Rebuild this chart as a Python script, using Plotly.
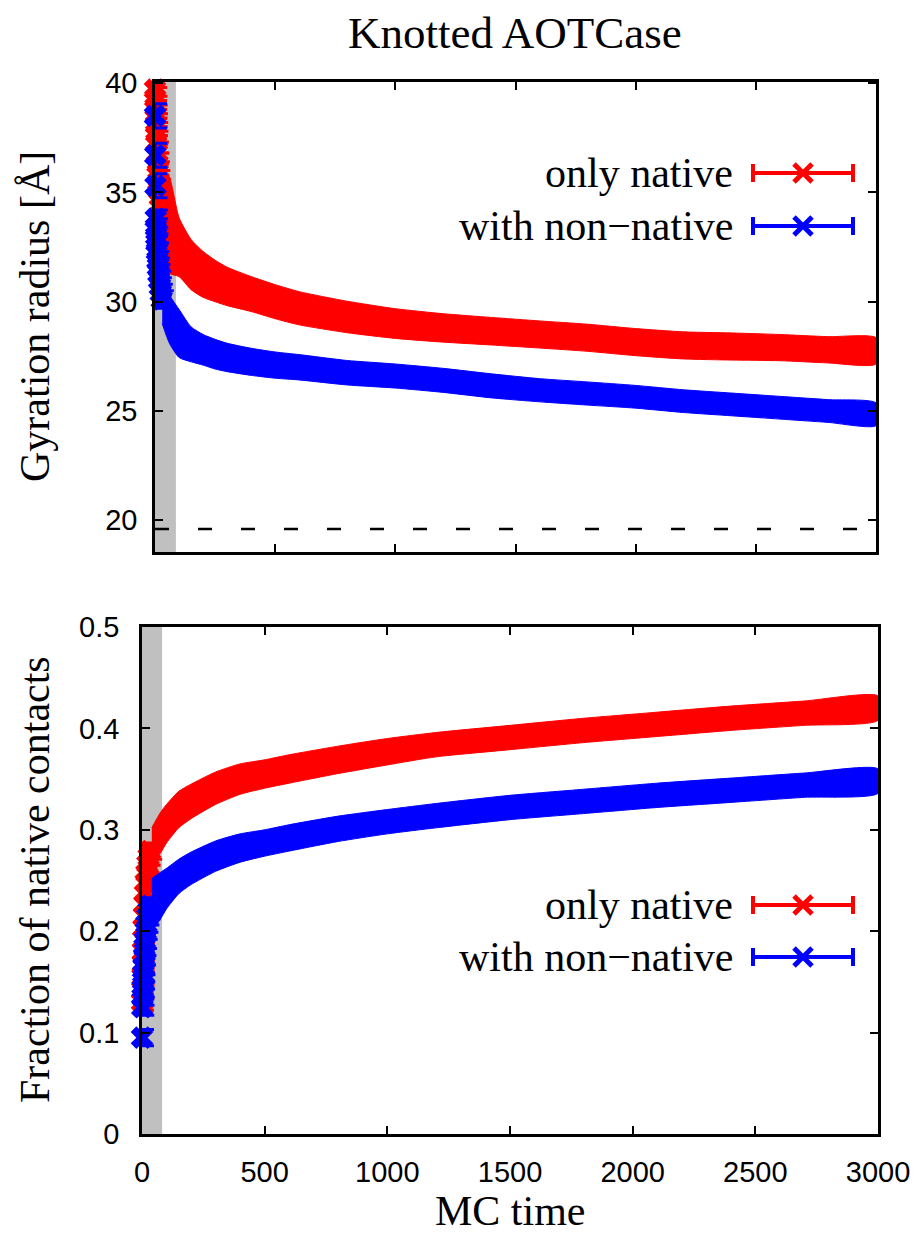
import plotly.graph_objects as go

W, H = 920, 1235

# ---------------- data ----------------
# Top panel: gyration radius [Å] vs MC time
top_early_t_red = [0, 1, 2, 3, 4, 5, 6, 8, 10, 12, 14, 17, 20, 23, 26]
top_early_red = [39.7, 39.3, 38.9, 38.5, 38.1, 37.7, 37.3, 36.8, 36.3, 35.9, 35.5,
                 35.1, 34.8, 34.5, 34.3]
top_early_red_err = [0.5] * 15

top_early_t_blue = [0, 1, 2, 3, 4, 5, 6, 8, 10, 12, 14, 17, 20, 24, 28]
top_early_blue = [38.5, 36.7, 35.3, 33.8, 33.4, 33.0, 32.7, 32.3, 31.9, 31.6, 31.3,
                  31.0, 30.7, 30.4, 30.1]
top_early_blue_err = [0.55, 0.55, 0.55] + [0.4] * 12

top_t = [30, 60, 100, 150, 200, 250, 300, 400, 500, 600, 800, 1000, 1200,
         1400, 1600, 1800, 2000, 2200, 2400, 2600, 2800, 3000]
top_red = [34.3, 33.5, 32.5, 31.7, 31.25, 30.95, 30.7, 30.35, 30.0, 29.7, 29.3,
           29.0, 28.8, 28.65, 28.5, 28.35, 28.15, 28.0, 27.95, 27.9, 27.8, 27.75]
top_red_err = [1.8, 2.2, 1.35, 1.15, 1.05, 0.95, 0.88, 0.8, 0.78, 0.76, 0.72, 0.68,
               0.65, 0.63, 0.62, 0.62, 0.62, 0.62, 0.62, 0.6, 0.6, 0.6]
top_blue = [30.0, 29.2, 28.55, 28.05, 27.8, 27.6, 27.45, 27.25, 27.1, 27.0, 26.75,
            26.6, 26.4, 26.15, 25.95, 25.8, 25.65, 25.45, 25.3, 25.15, 25.0, 24.85]
top_blue_err = [1.0, 1.1, 1.1, 0.8, 0.7, 0.68, 0.65, 0.62, 0.6, 0.58, 0.56, 0.55,
                0.55, 0.55, 0.53, 0.53, 0.52, 0.52, 0.52, 0.52, 0.52, 0.52]
native_rg = 19.6

# Bottom panel: fraction of native contacts vs MC time
bot_early_t_red = [0, 1, 2, 3, 4, 5, 6, 8, 10, 12, 15, 18, 22, 27, 33]
bot_early_red = [0.13, 0.142, 0.155, 0.168, 0.18, 0.192, 0.203, 0.215, 0.227, 0.237,
                 0.248, 0.257, 0.266, 0.273, 0.279]
bot_early_red_err = [0.008] * 15

bot_early_t_blue = [0, 1, 2, 3, 4, 5, 6, 8, 10, 12, 15, 18, 22, 27, 33]
bot_early_blue = [0.095, 0.125, 0.135, 0.143, 0.151, 0.158, 0.165, 0.175, 0.184, 0.191,
                  0.2, 0.207, 0.214, 0.22, 0.225]
bot_early_blue_err = [0.008] * 15

bot_t = [40, 75, 100, 150, 200, 300, 400, 500, 600, 800, 1000, 1200, 1500,
         1800, 2100, 2400, 2700, 3000]
bot_red = [0.285, 0.297, 0.306, 0.320, 0.328, 0.341, 0.350, 0.355, 0.360, 0.369,
           0.377, 0.384, 0.391, 0.398, 0.404, 0.410, 0.415, 0.420]
bot_red_err = [0.017, 0.02, 0.019, 0.018, 0.017, 0.016, 0.015, 0.014, 0.014, 0.0135,
               0.013, 0.012, 0.012, 0.012, 0.012, 0.012, 0.012, 0.012]
bot_blue = [0.226, 0.235, 0.242, 0.254, 0.262, 0.274, 0.282, 0.287, 0.292, 0.301,
            0.308, 0.314, 0.322, 0.328, 0.334, 0.339, 0.344, 0.348]
bot_blue_err = [0.026, 0.023, 0.02, 0.017, 0.016, 0.015, 0.014, 0.013, 0.013, 0.0125,
                0.012, 0.012, 0.012, 0.012, 0.012, 0.012, 0.012, 0.012]

gray_top = 87
gray_bot = 82

series_names = ["only native", "with non\u2212native"]
RED = "#ff0000"
BLUE = "#0000ff"

x_ticks = [0, 500, 1000, 1500, 2000, 2500, 3000]
top_y_ticks = [20, 25, 30, 35, 40]
bot_y_ticks = [0, 0.1, 0.2, 0.3, 0.4, 0.5]
bot_y_text = ["0", "0.1", "0.2", "0.3", "0.4", "0.5"]

SERIF = "Liberation Serif"
SANS = "Liberation Sans"

# ---------------- figure ----------------
fig = go.Figure()


def band(t, m, e, color, xa, ya):
    up = [a + b for a, b in zip(m, e)]
    lo = [a - b for a, b in zip(m, e)]
    fig.add_trace(go.Scatter(
        x=list(t) + list(t)[::-1], y=up + lo[::-1], fill="toself",
        fillcolor=color, line=dict(color=color, width=1, shape="spline", smoothing=0.6),
        mode="lines", xaxis=xa, yaxis=ya, hoverinfo="skip", showlegend=False))


def pts(t, m, e, color, xa, ya):
    fig.add_trace(go.Scatter(
        x=t, y=m, mode="markers",
        marker=dict(symbol="x", size=20, color=color, line=dict(width=0)),
        error_y=dict(type="data", array=e, color=color, thickness=3, width=12),
        cliponaxis=False, xaxis=xa, yaxis=ya, showlegend=False))


# top panel
band(top_t, top_red, top_red_err, RED, "x", "y")
pts(top_early_t_red, top_early_red, top_early_red_err, RED, "x", "y")
band(top_t, top_blue, top_blue_err, BLUE, "x", "y")
pts(top_early_t_blue, top_early_blue, top_early_blue_err, BLUE, "x", "y")

# bottom panel
band(bot_t, bot_red, bot_red_err, RED, "x2", "y2")
pts(bot_early_t_red, bot_early_red, bot_early_red_err, RED, "x2", "y2")
band(bot_t, bot_blue, bot_blue_err, BLUE, "x2", "y2")
pts(bot_early_t_blue, bot_early_blue, bot_early_blue_err, BLUE, "x2", "y2")

axis_common = dict(showline=True, mirror="ticks", linecolor="black", linewidth=2.5,
                   ticks="inside", ticklen=8, tickwidth=2, tickcolor="black",
                   showgrid=False, zeroline=False, automargin=False,
                   tickfont=dict(family=SANS, size=29, color="black"))

top_x_dom = [155 / W, 876 / W]
top_y_dom = [1 - 552 / H, 1 - 82 / H]
bot_x_dom = [142 / W, 878 / W]
bot_y_dom = [1 - 1134 / H, 1 - 627 / H]

fig.update_layout(
    width=W, height=H, margin=dict(l=0, r=0, t=0, b=0, pad=0, autoexpand=False),
    paper_bgcolor="white", plot_bgcolor="white", showlegend=False,
    xaxis=dict(domain=top_x_dom, anchor="y", range=[0, 3000], tickvals=x_ticks,
               showticklabels=False, **axis_common),
    yaxis=dict(domain=top_y_dom, anchor="x", range=[18.55, 40.05], tickvals=top_y_ticks,
               ticklabelstandoff=9, **axis_common),
    xaxis2=dict(domain=bot_x_dom, anchor="y2", range=[0, 3000], tickvals=x_ticks,
                ticklabelstandoff=10, **axis_common),
    yaxis2=dict(domain=bot_y_dom, anchor="x2", range=[0, 0.5], tickvals=bot_y_ticks,
                ticktext=bot_y_text, ticklabelstandoff=14, **axis_common),
)

# gray equilibration strips and native reference line
fig.add_shape(type="rect", xref="x", yref="y domain", x0=0, x1=gray_top, y0=0, y1=1,
              fillcolor="#c0c0c0", line=dict(width=0), layer="below")
fig.add_shape(type="rect", xref="x2", yref="y2 domain", x0=0, x1=gray_bot, y0=0, y1=1,
              fillcolor="#c0c0c0", line=dict(width=0), layer="below")
fig.add_shape(type="line", xref="x", yref="y", x0=0, x1=3000, y0=native_rg, y1=native_rg,
              line=dict(color="black", width=2.5, dash="14px,29px"))

# titles
fig.add_annotation(text="Knotted AOTCase", x=515 / W, y=1 - 33 / H, xref="paper", yref="paper",
                   showarrow=False, font=dict(family=SERIF, size=45, color="black"),
                   xanchor="center", yanchor="middle")
fig.add_annotation(text="Gyration radius [Å]", x=35 / W, y=1 - 317 / H, xref="paper",
                   yref="paper", showarrow=False, textangle=-90,
                   font=dict(family=SERIF, size=42, color="black"),
                   xanchor="center", yanchor="middle")
fig.add_annotation(text="Fraction of native contacts", x=35 / W, y=1 - 880 / H,
                   xref="paper", yref="paper", showarrow=False, textangle=-90,
                   font=dict(family=SERIF, size=42, color="black"),
                   xanchor="center", yanchor="middle")
fig.add_annotation(text="MC time", x=510 / W, y=0.0, xref="paper", yref="paper",
                   showarrow=False, font=dict(family=SERIF, size=42, color="black"),
                   xanchor="center", yanchor="bottom", borderpad=0)


# legends (drawn manually: text right-aligned, sample to the right)
def legend_entry(label, color, ypx):
    yp = 1 - ypx / H
    fig.add_annotation(text=label, x=735 / W, y=yp, xref="paper", yref="paper",
                       showarrow=False, xanchor="right", yanchor="middle",
                       font=dict(family=SERIF, size=42, color="black"))
    fig.add_shape(type="line", xref="paper", yref="paper", x0=753 / W, x1=853 / W,
                  y0=yp, y1=yp, line=dict(color=color, width=4))
    for xc in (753, 853):
        fig.add_shape(type="line", xref="paper", yref="paper", x0=xc / W, x1=xc / W,
                      y0=1 - (ypx - 9) / H, y1=1 - (ypx + 9) / H,
                      line=dict(color=color, width=4))
    for d in (1, -1):
        fig.add_shape(type="line", xref="paper", yref="paper",
                      x0=(803 - 9) / W, x1=(803 + 9) / W,
                      y0=1 - (ypx - 9 * d) / H, y1=1 - (ypx + 9 * d) / H,
                      line=dict(color=color, width=5))


legend_entry(series_names[0], RED, 173)
legend_entry(series_names[1], BLUE, 226)
legend_entry(series_names[0], RED, 905)
legend_entry(series_names[1], BLUE, 957)

fig.write_html(
    "out.html",
    config={"displayModeBar": False},
    post_script="document.body.style.margin='0';document.body.style.overflow='hidden';"
                "document.documentElement.style.overflow='hidden';",
)
